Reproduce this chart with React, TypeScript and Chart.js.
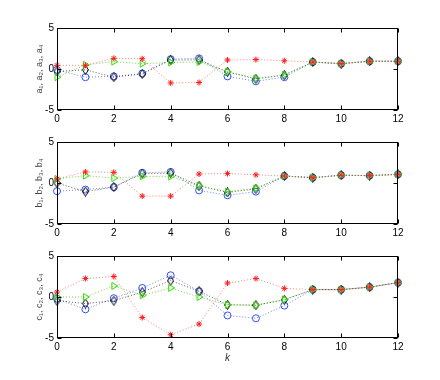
import React, { useEffect, useRef } from "react";
import { Chart, registerables } from "chart.js";
Chart.register(...registerables);

const ks = [0, 1, 2, 3, 4, 5, 6, 7, 8, 9, 10, 11, 12];
const xTicks = [0, 2, 4, 6, 8, 10, 12];
const yTicks = [-5, 0, 5];

// panel a
const aCircle = [-0.1, -1.0, -0.9, -0.55, 1.2, 1.3, -0.9, -1.5, -1.0, 0.85, 0.65, 0.95, 0.95];
const aDiamond = [-0.3, -0.1, -1.0, -0.6, 1.1, 1.1, -0.35, -1.2, -0.75, 0.85, 0.65, 0.95, 0.95];
const aTriangle = [-1.0, 0.5, 0.9, 0.65, 0.8, 0.85, -0.35, -1.15, -0.7, 0.85, 0.65, 0.95, 0.95];
const aStar = [0.45, 0.45, 1.3, 1.25, -1.7, -1.65, 1.1, 1.15, 1.0, 0.85, 0.65, 0.95, 0.95];

// panel b
const bCircle = [-1.0, -0.8, -0.5, 1.25, 1.35, -0.9, -1.5, -1.05, 0.85, 0.65, 0.95, 0.9, 1.05];
const bDiamond = [0.0, -1.05, -0.5, 1.15, 1.2, -0.35, -1.15, -0.7, 0.85, 0.65, 0.95, 0.9, 1.05];
const bTriangle = [0.5, 0.9, 0.6, 0.8, 0.8, -0.35, -1.05, -0.65, 0.85, 0.65, 0.95, 0.9, 1.05];
const bStar = [0.5, 1.35, 1.3, -1.6, -1.6, 1.1, 1.15, 1.0, 0.85, 0.65, 0.95, 0.9, 1.05];

// panel c
const cCircle = [-0.2, -1.5, -0.15, 1.1, 2.65, 0.7, -2.25, -2.6, -1.05, 0.9, 0.9, 1.2, 1.75];
const cDiamond = [-0.45, -0.8, -0.45, 0.6, 2.0, 0.7, -0.95, -1.0, -0.35, 0.9, 0.9, 1.2, 1.75];
const cTriangle = [0.0, 0.0, 1.35, 0.2, 1.1, 0.0, -0.95, -1.0, -0.3, 0.9, 0.9, 1.2, 1.75];
const cStar = [0.6, 2.25, 2.5, -2.5, -4.6, -3.3, 1.7, 2.25, 1.05, 0.9, 0.9, 1.2, 1.75];

const yLabels = ["a\u2081, a\u2082, a\u2083, a\u2084", "b\u2081, b\u2082, b\u2083, b\u2084", "c\u2081, c\u2082, c\u2083, c\u2084"];
const xLabel = "k";

const panelData = [
  [aCircle, aDiamond, aTriangle, aStar],
  [bCircle, bDiamond, bTriangle, bStar],
  [cCircle, cDiamond, cTriangle, cStar],
];

const layout = [
  { top: 0, height: 125, padTop: 28, xTitle: false },
  { top: 125, height: 115, padTop: 17, xTitle: false },
  { top: 240, height: 140, padTop: 16, xTitle: true },
];
const PLOT_H = 82;

const BLUE = "#2f4fff";
const GREEN = "#33dd00";
const RED = "#ff1a1a";
const BLACK = "#000000";

function makeDiamond(): HTMLCanvasElement {
  const c = document.createElement("canvas");
  c.width = 7;
  c.height = 10;
  const g = c.getContext("2d")!;
  g.strokeStyle = BLACK;
  g.lineWidth = 1;
  g.beginPath();
  g.moveTo(3.5, 0.5);
  g.lineTo(6.5, 5);
  g.lineTo(3.5, 9.5);
  g.lineTo(0.5, 5);
  g.closePath();
  g.stroke();
  return c;
}

const framePlugin = {
  id: "frame",
  afterDatasetsDraw(chart: any) {
    const { ctx, chartArea, scales } = chart;
    const { left, right, top, bottom } = chartArea;
    ctx.save();
    ctx.strokeStyle = "#000";
    ctx.lineWidth = 1;
    const L = Math.round(left) + 0.5, R = Math.round(right) - 0.5;
    const T = Math.round(top) + 0.5, B = Math.round(bottom) - 0.5;
    ctx.strokeRect(L, T, R - L, B - T);
    const tl = 4;
    ctx.beginPath();
    xTicks.forEach((v) => {
      const x = Math.round(scales.x.getPixelForValue(v)) + 0.5;
      ctx.moveTo(x, B);
      ctx.lineTo(x, B - tl);
      ctx.moveTo(x, T);
      ctx.lineTo(x, T + tl);
    });
    yTicks.forEach((v) => {
      const y = Math.round(scales.y.getPixelForValue(v)) + 0.5;
      ctx.moveTo(L, y);
      ctx.lineTo(L + tl, y);
      ctx.moveTo(R, y);
      ctx.lineTo(R - tl, y);
    });
    ctx.stroke();
    ctx.restore();
  },
};

function Panel({ idx }: { idx: number }) {
  const ref = useRef<HTMLCanvasElement>(null);
  useEffect(() => {
    const [circ, diam, tri, star] = panelData[idx];
    const lay = layout[idx];
    const xAxisH = lay.height - lay.padTop - PLOT_H;
    const diamondImg = makeDiamond();
    const common = { borderWidth: 1, borderDash: [1, 2], fill: false, tension: 0, clip: false as any, pointBorderWidth: 1 };
    const chart = new Chart(ref.current!, {
      type: "line",
      data: {
        labels: ks,
        datasets: [
          { ...common, data: star.map((y, i) => ({ x: ks[i], y })), borderColor: "rgba(255,60,60,0.65)", pointStyle: "star", pointRadius: 3, pointBorderColor: RED, pointBackgroundColor: RED },
          { ...common, data: tri.map((y, i) => ({ x: ks[i], y })), borderColor: "rgba(60,210,0,0.75)", pointStyle: "triangle", pointRotation: 90, pointRadius: 4, pointBorderColor: GREEN, pointBackgroundColor: "rgba(0,0,0,0)" },
          { ...common, data: diam.map((y, i) => ({ x: ks[i], y })), borderColor: "rgba(40,40,40,0.75)", pointStyle: diamondImg as any, pointRadius: 4 },
          { ...common, data: circ.map((y, i) => ({ x: ks[i], y })), borderColor: "rgba(50,80,255,0.7)", pointStyle: "circle", pointRadius: 3.5, pointBorderColor: BLUE, pointBackgroundColor: "rgba(0,0,0,0)" },
        ] as any,
      },
      options: {
        animation: false,
        responsive: false,
        devicePixelRatio: 1,
        layout: { padding: { top: lay.padTop, right: 42, left: 0, bottom: 0 } },
        plugins: { legend: { display: false }, tooltip: { enabled: false } },
        scales: {
          x: {
            type: "linear",
            min: 0,
            max: 12,
            grid: { display: false, drawTicks: false },
            border: { display: false },
            afterBuildTicks: (s: any) => { s.ticks = xTicks.map((v) => ({ value: v })); },
            afterFit: (s: any) => { s.height = xAxisH; },
            ticks: { color: "#000", padding: 3, maxRotation: 0, font: { family: "Liberation Sans", size: 10 } },
            title: lay.xTitle
              ? { display: true, text: xLabel, color: "#333", font: { family: "Liberation Sans", size: 10, style: "italic" }, padding: { top: 0, bottom: 16 } }
              : { display: false },
          },
          y: {
            type: "linear",
            min: -5,
            max: 5,
            grid: { display: false, drawTicks: false },
            border: { display: false },
            afterBuildTicks: (s: any) => { s.ticks = yTicks.map((v) => ({ value: v })); },
            afterFit: (s: any) => { s.width = 57; },
            ticks: { color: "#000", padding: 3, font: { family: "Liberation Sans", size: 10 } },
            title: { display: true, text: yLabels[idx], color: "#444", font: { family: "Liberation Sans", size: 9 }, padding: { top: 34, bottom: 0 } },
          },
        },
      } as any,
      plugins: [framePlugin],
    });
    return () => chart.destroy();
  }, [idx]);
  const lay = layout[idx];
  return (
    <canvas
      ref={ref}
      width={440}
      height={lay.height}
      style={{ position: "absolute", left: 0, top: lay.top, width: 440, height: lay.height }}
    />
  );
}

export default function App() {
  return (
    <div style={{ position: "absolute", left: 0, top: 0, width: 440, height: 380, background: "#fff" }}>
      <Panel idx={0} />
      <Panel idx={1} />
      <Panel idx={2} />
    </div>
  );
}
